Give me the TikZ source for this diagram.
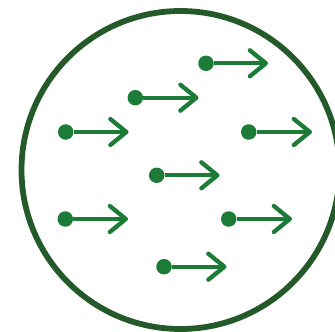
\documentclass[tikz,border=0pt]{standalone}
\usetikzlibrary{arrows.meta}
\definecolor{ringgreen}{HTML}{245A2A}
\definecolor{arrowgreen}{HTML}{1C7B36}
\begin{document}
\begin{tikzpicture}[x=1pt,y=-1pt,
  dotnode/.style={circle,fill=arrowgreen,inner sep=0pt,minimum size=15.5pt},
  vec/.style={draw=arrowgreen,line width=4.3pt,
    -{Straight Barb[length=16pt,width=26pt,line width=4.3pt,round]}},
  ring/.style={draw=ringgreen,line width=5.8pt}]
\useasboundingbox (0,0) rectangle (335,332);
\draw[ring] (180.5,170) circle (159);
\foreach \n/\x/\y/\tx in {1/206/63.3/268,2/135.3/97.7/198.5,3/65.7/132/128.5,4/248.7/132/312,
  5/156.7/175.3/219.5,6/65.3/219/128,7/228.7/219/292,8/164/266.7/226.5}{
  \node[dotnode] (d\n) at (\x,\y) {};
  \coordinate (t\n) at (\tx,\y);
  \draw[vec] (d\n) -- (t\n);
}
\end{tikzpicture}
\end{document}
